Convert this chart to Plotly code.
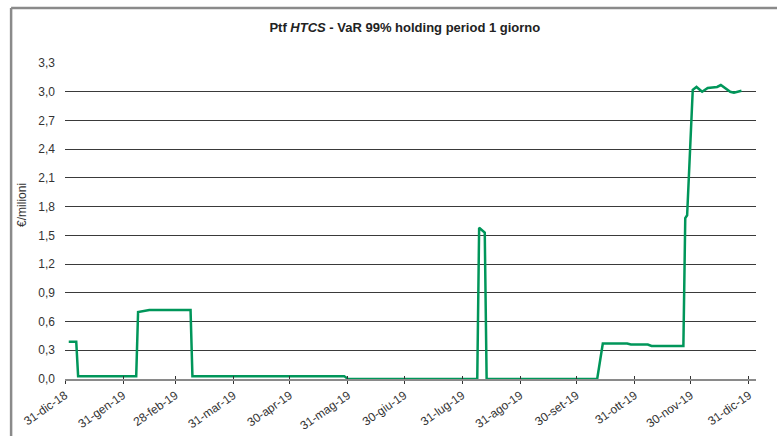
import plotly.graph_objects as go

# Daily VaR 99% (EUR millions), HTCS portfolio, 2019
dates = [
    "2019-01-02", "2019-01-06", "2019-01-07", "2019-02-07", "2019-02-08",
    "2019-02-11", "2019-02-14", "2019-02-19", "2019-02-24", "2019-02-27",
    "2019-03-03", "2019-03-06", "2019-03-08", "2019-03-09", "2019-05-29",
    "2019-05-31", "2019-08-08", "2019-08-09", "2019-08-12", "2019-08-13",
    "2019-10-11", "2019-10-14", "2019-10-27", "2019-10-29", "2019-11-07",
    "2019-11-09", "2019-11-26", "2019-11-27", "2019-11-28", "2019-12-01",
    "2019-12-03", "2019-12-06", "2019-12-09", "2019-12-14", "2019-12-16",
    "2019-12-21", "2019-12-23", "2019-12-27",
]
var_values = [
    0.39, 0.39, 0.03, 0.03, 0.70,
    0.71, 0.72, 0.72, 0.72, 0.715,
    0.715, 0.72, 0.72, 0.03, 0.03,
    0.0, 0.0, 1.58, 1.53, 0.0,
    0.0, 0.37, 0.37, 0.36, 0.36,
    0.345, 0.345, 1.68, 1.71, 3.02,
    3.05, 3.00, 3.04, 3.05, 3.07,
    3.00, 2.99, 3.01,
]

tick_dates = [
    "2018-12-31", "2019-01-31", "2019-02-28", "2019-03-31", "2019-04-30",
    "2019-05-31", "2019-06-30", "2019-07-31", "2019-08-31", "2019-09-30",
    "2019-10-31", "2019-11-30", "2019-12-31",
]
tick_labels = [
    "31-dic-18", "31-gen-19", "28-feb-19", "31-mar-19", "30-apr-19",
    "31-mag-19", "30-giu-19", "31-lug-19", "31-ago-19", "30-set-19",
    "31-ott-19", "30-nov-19", "31-dic-19",
]
y_ticks = [round(0.3 * i, 1) for i in range(12)]

FONT = "Liberation Sans, Arial, sans-serif"
x_range = ["2018-12-31", "2020-01-03 18:00"]

fig = go.Figure()
fig.add_trace(go.Scatter(
    x=dates, y=var_values, mode="lines",
    line=dict(color="#00965a", width=2.5),
    showlegend=False, hoverinfo="x+y",
))
# companion axis carrying the inner half of the crossing tick marks
fig.add_trace(go.Scatter(x=[], y=[], xaxis="x2", showlegend=False))

fig.update_layout(
    width=777, height=436,
    margin=dict(l=65, r=21, t=63, b=57, autoexpand=False),
    paper_bgcolor="white", plot_bgcolor="white",
    separators=",.",
    font=dict(family=FONT, size=12, color="#222"),
    title=dict(
        text="<b>Ptf <i>HTCS</i> - VaR 99% holding period 1 giorno</b>",
        x=0.521, xanchor="center", y=0.938, yanchor="middle",
        font=dict(family=FONT, size=13, color="#222"),
    ),
    xaxis=dict(
        type="date", range=x_range, automargin=False,
        tickmode="array", tickvals=tick_dates, ticktext=tick_labels,
        tickangle=-35, tickfont=dict(size=12, color="#333"),
        showgrid=False, zeroline=False,
        showline=True, linecolor="#8a8a8a", linewidth=1.5,
        ticks="outside", ticklen=3, tickcolor="#333", tickwidth=1,
    ),
    xaxis2=dict(
        type="date", range=x_range, overlaying="x", anchor="y", side="bottom",
        automargin=False,
        tickmode="array", tickvals=tick_dates, showticklabels=False,
        showgrid=False, zeroline=False, showline=False,
        ticks="inside", ticklen=3, tickcolor="#333", tickwidth=1,
    ),
    yaxis=dict(
        range=[0, 3.3], tickmode="array", tickvals=y_ticks, automargin=False,
        tickformat=".1f", tickfont=dict(size=12, color="#333"),
        showgrid=True, gridcolor="#3a3a3a", gridwidth=1,
        zeroline=False, showline=False, ticks="",
        ticklabelstandoff=9,
    ),
    annotations=[dict(
        text="€/milioni", textangle=-90,
        xref="paper", yref="paper", x=-0.0622, y=0.551,
        xanchor="center", yanchor="middle", showarrow=False,
        font=dict(family=FONT, size=12, color="#333"),
    )],
    shapes=[
        # outer frame: top and left edges
        dict(type="line", xref="paper", yref="paper",
             x0=-0.078, x1=1.05, y0=1.174, y1=1.174,
             line=dict(color="#8a8a8a", width=2.5)),
        dict(type="line", xref="paper", yref="paper",
             x0=-0.078, x1=-0.078, y0=1.174, y1=-0.2,
             line=dict(color="#8a8a8a", width=2.5)),
    ],
)

fig.write_html("out.html")
